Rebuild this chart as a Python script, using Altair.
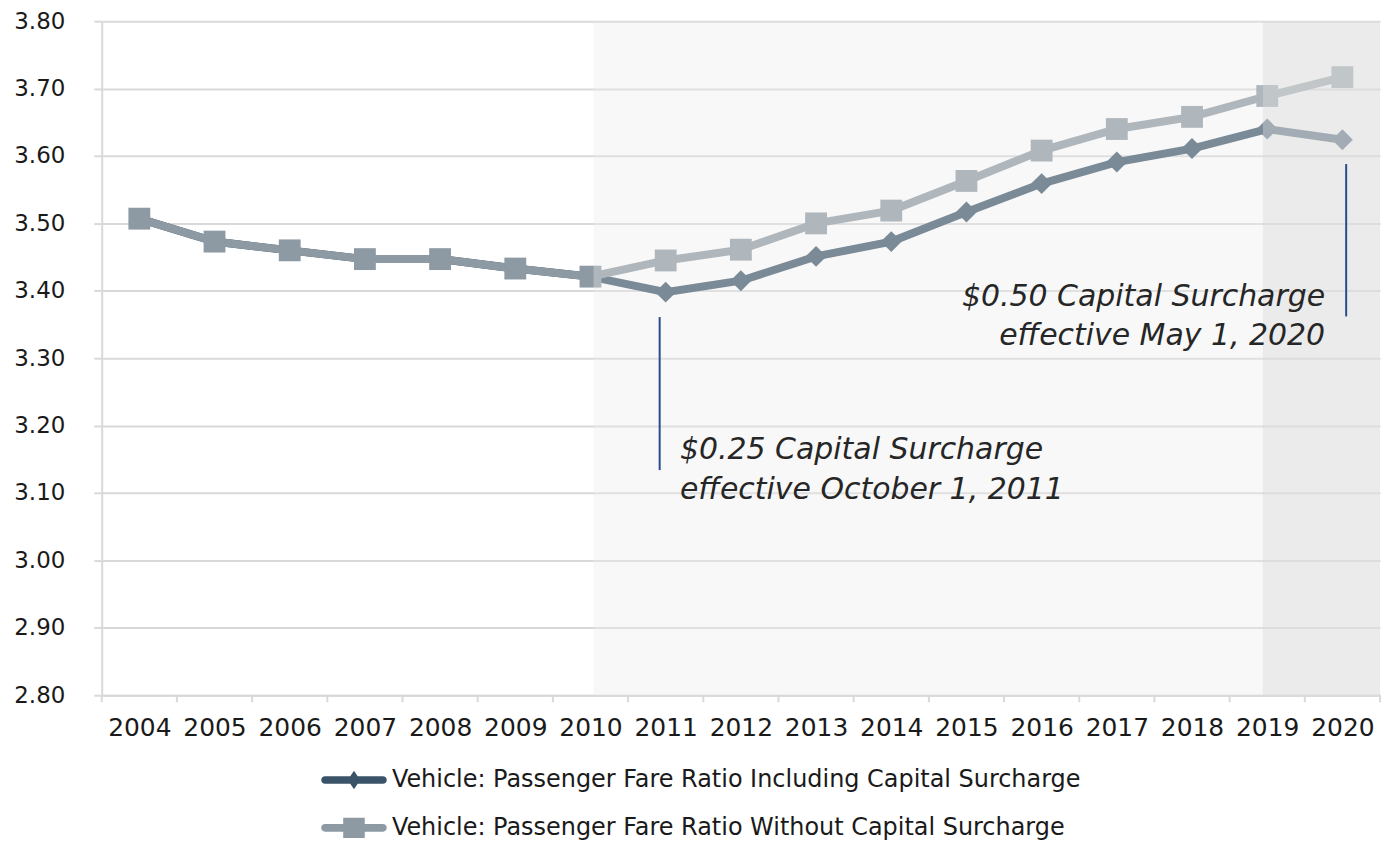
import altair as alt
import pandas as pd

# ---------------- data ----------------
years = list(range(2004, 2021))
including = [3.507, 3.473, 3.460, 3.447, 3.447, 3.433, 3.421, 3.398, 3.415,
             3.451, 3.473, 3.517, 3.559, 3.591, 3.611, 3.640, 3.624]
without = [3.507, 3.473, 3.460, 3.447, 3.447, 3.433, 3.421, 3.445, 3.461,
           3.500, 3.519, 3.563, 3.608, 3.640, 3.658, 3.689, 3.717]
series_names = ["Vehicle: Passenger Fare Ratio Including Capital Surcharge",
                "Vehicle: Passenger Fare Ratio Without Capital Surcharge"]
series_colors = ["#3a5368", "#8d99a3"]
series_shapes = ["diamond", "square"]
y_ticks = [2.8, 2.9, 3.0, 3.1, 3.2, 3.3, 3.4, 3.5, 3.6, 3.7, 3.8]

shade_start = [2010.04, 2018.94]
shade_end = [2018.94, 2020.5]
shade_fill = ["#ececec", "#dfdfdf"]
shade_alpha = [0.36, 0.635]

note_x = [2010.92, 2020.05]
note_top = [3.361, 3.588]
note_bottom = [3.134, 3.362]
note_text_x = [2011.19, 2019.77]
note_text_y = [3.1506, 3.378]
note_align = ["left", "right"]
note_text = ["$0.25 Capital Surcharge\neffective October 1, 2011",
             "$0.50 Capital Surcharge\neffective May 1, 2020"]

# ---------------- layout / style ----------------
W, H = 1282, 676
FONT = "DejaVu Sans"
GRID = "#d9d9d9"

legend_paths = [
    "M-2.42,-0.32L2.42,-0.32A0.32,0.32 0 0 1 2.42,0.32L-2.42,0.32A0.32,0.32 0 0 1 -2.42,-0.32Z"
    "M0,-0.78L0.52,0L0,0.78L-0.52,0Z",
    "M-2.42,-0.32L2.42,-0.32A0.32,0.32 0 0 1 2.42,0.32L-2.42,0.32A0.32,0.32 0 0 1 -2.42,-0.32Z"
    "M-0.9,-0.85L0.9,-0.85L0.9,0.85L-0.9,0.85Z",
]
legend_y = [749, 797]

df = pd.DataFrame({
    "x": years + years,
    "y": including + without,
    "series": [series_names[0]] * len(years) + [series_names[1]] * len(years),
})
boundaries = [yr - 0.5 for yr in years] + [years[-1] + 0.5]
ticks_df = pd.DataFrame({"x": boundaries})
shade_df = pd.DataFrame({"x": shade_start, "x2": shade_end,
                         "fill": shade_fill, "alpha": shade_alpha})
notes_df = pd.DataFrame({"x": note_x, "y": note_top, "y2": note_bottom})

x_scale = alt.Scale(domain=[years[0] - 0.5, years[-1] + 0.5], nice=False, zero=False)
y_scale = alt.Scale(domain=[y_ticks[0], y_ticks[-1]], nice=False, zero=False)

x_axis = alt.Axis(values=years, format="d", ticks=False, grid=False, domain=True,
                  domainColor=GRID, domainWidth=2, labelFont=FONT, labelFontSize=25,
                  labelColor="#1a1a1a", labelPadding=20, labelFlush=False,
                  labelOverlap=False, title=None)
y_axis = alt.Axis(values=y_ticks, format=".2f", grid=True, gridColor=GRID, gridWidth=2,
                  domain=True, domainColor=GRID, domainWidth=2, ticks=True,
                  tickColor=GRID, tickWidth=2, tickSize=8, labelFont=FONT,
                  labelFontSize=23, labelColor="#1a1a1a", labelPadding=29, title=None)

X = alt.X("x:Q", scale=x_scale, axis=x_axis)
Y = alt.Y("y:Q", scale=y_scale, axis=y_axis)

layers = []
# data series (line + markers), "Without" drawn on top
for i in range(2):
    src = alt.Chart(df).transform_filter(alt.datum.series == series_names[i])
    layers.append(src.mark_line(color=series_colors[i], strokeWidth=8).encode(x=X, y=Y))
    layers.append(src.mark_point(shape=series_shapes[i], filled=True, opacity=1,
                                 color=series_colors[i],
                                 size=440 if i == 0 else 480).encode(x=X, y=Y))

# shaded periods (drawn over the lines, semi-transparent)
layers.append(alt.Chart(shade_df).mark_rect().encode(
    x="x:Q", x2="x2:Q", y=alt.datum(y_ticks[-1]), y2=alt.datum(y_ticks[0]),
    fill=alt.Fill("fill:N", scale=None), opacity=alt.Opacity("alpha:Q", scale=None)))

# x tick marks at band edges
layers.append(alt.Chart(ticks_df).mark_rule(color=GRID, strokeWidth=2).encode(
    x="x:Q", y=alt.value(H), y2=alt.value(H + 7)))

# annotation rules
layers.append(alt.Chart(notes_df).mark_rule(color="#264d8c", strokeWidth=2).encode(
    x="x:Q", y="y:Q", y2="y2:Q"))

# annotation texts
for i in range(2):
    tdf = pd.DataFrame({"x": [note_text_x[i]], "y": [note_text_y[i]], "t": [note_text[i]]})
    layers.append(alt.Chart(tdf).mark_text(
        align=note_align[i], baseline="alphabetic", lineBreak="\n", lineHeight=40,
        font=FONT, fontStyle="italic", fontSize=30, color="#262626").encode(
        x="x:Q", y="y:Q", text="t:N"))

# legend-only layers
for i in range(2):
    layers.append(alt.Chart(df).transform_filter("false").mark_point(filled=True).encode(
        x="x:Q", y="y:Q",
        color=alt.Color("series:N",
                        scale=alt.Scale(domain=[series_names[i]], range=[series_colors[i]]),
                        legend=alt.Legend(orient="none", legendX=241, legendY=legend_y[i],
                                          title=None, symbolType=legend_paths[i],
                                          symbolSize=576, symbolStrokeWidth=0,
                                          symbolOpacity=1, labelFont=FONT,
                                          labelFontSize=24, labelColor="#1a1a1a",
                                          labelOffset=26, labelLimit=2000, padding=0))))

chart = alt.layer(*layers).resolve_scale(color="independent").properties(
    width=W, height=H,
    padding={"left": 5, "top": 1, "right": 0, "bottom": 0},
    background="white",
).configure_view(stroke=None)

chart.save("out.html", embed_options={"renderer": "svg", "actions": False})
